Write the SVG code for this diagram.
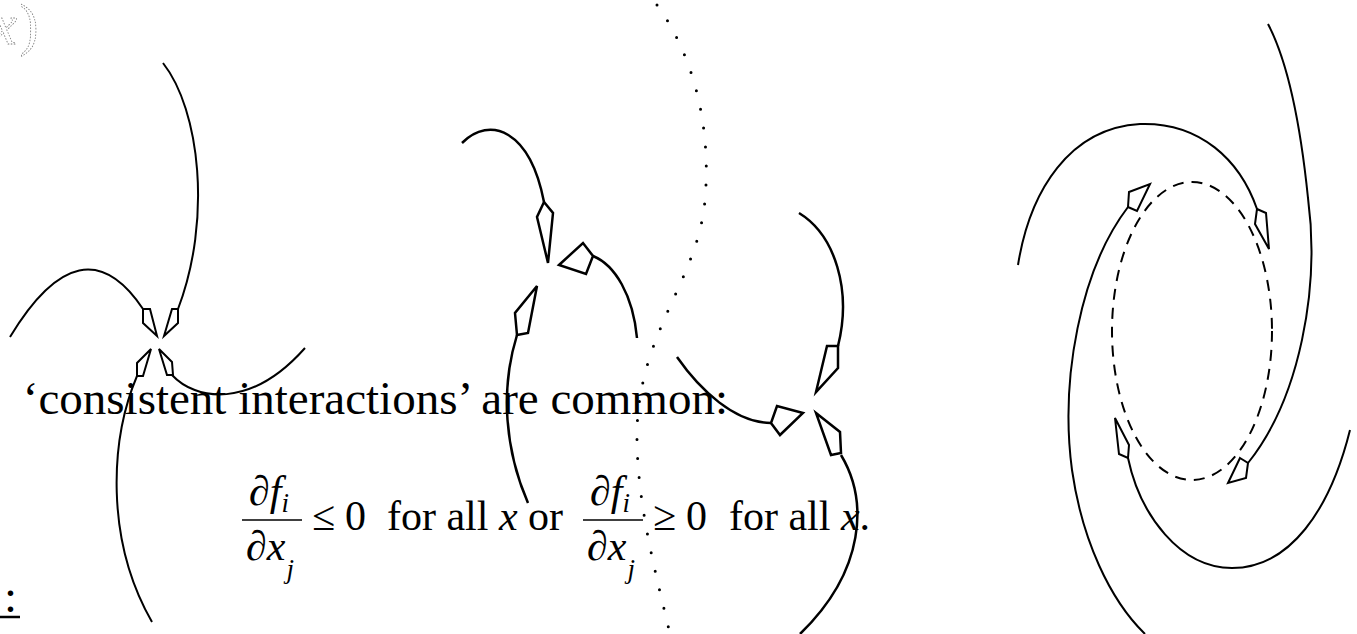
<svg xmlns="http://www.w3.org/2000/svg" width="1357" height="634" viewBox="0 0 1357 634">
<style>
.c{fill:none;stroke:#000;stroke-width:2}
.t{fill:none;stroke:#000;stroke-width:2.5}
.h{fill:none;stroke:#000;stroke-width:2;stroke-linejoin:miter}
.ht{fill:none;stroke:#000;stroke-width:2.5;stroke-linejoin:miter}
.dot{fill:none;stroke:#000;stroke-width:3;stroke-linecap:round;stroke-dasharray:0 19}
.dash{fill:none;stroke:#000;stroke-width:2;stroke-dasharray:11 8}
.tx{font-family:"Liberation Serif","Times New Roman",serif;fill:#000}
.it{font-style:italic}
</style>
<rect width="1357" height="634" fill="#fff"/>
<g id="corner-label">
<text class="tx it" x="-8" y="44" font-size="56" stroke="#777" stroke-width="0.8" stroke-dasharray="1.5 1.5" style="fill:none">x<tspan font-style="normal" dx="3">)</tspan></text>
</g>
<g id="connectors">
<g id="cluster-left">
<path class="c" d="M10,337 Q82,218 143,309"/>
<polygon class="h" points="143,309 150,309 157,336 143,323"/>
<path class="c" d="M163,63 C200,110 212,220 178,309"/>
<polygon class="h" points="178,309 172,309 164,336 178,323"/>
<path class="c" d="M137,376 C110,440 105,540 152,622"/>
<polygon class="h" points="151,349 137,363 137,376 143,376"/>
<path class="c" d="M172,375 C195,400 250,410 305,348"/>
<polygon class="h" points="159,349 172,362 173,375 167,375"/>
</g>
<g id="cluster-middle">
<path class="t" d="M462,143 C490,115 530,130 544,202"/>
<polygon class="ht" points="544,202 553,213 548,263 537,217"/>
<path class="t" d="M593,256 C615,265 633,295 637,338"/>
<polygon class="ht" points="559,265 583,243 593,256 586,274"/>
<path class="t" d="M517,335 C500,390 505,450 528,503"/>
<polygon class="ht" points="537,286 515,313 517,335 528,333"/>
</g>
<g id="separatrix">
<path class="dot" d="M657,5 C690,50 712,120 705,200 C698,280 640,330 637,430 C636,500 655,570 670,634"/>
</g>
<g id="cluster-right">
<path class="t" d="M799,213 C835,235 852,290 838,346"/>
<polygon class="ht" points="827,346 838,346 838,368 816,392"/>
<path class="t" d="M677,357 C700,390 735,423 771,423"/>
<polygon class="ht" points="803,413 777,406 771,423 780,435"/>
<path class="t" d="M841,455 C868,500 866,570 800,634"/>
<polygon class="ht" points="816,413 840,432 841,453 831,455"/>
</g>
<g id="spiral">
<ellipse class="dash" cx="1192" cy="331" rx="80" ry="149"/>
<path class="c" d="M1018,265 C1030,190 1070,128 1140,124 C1200,122 1240,160 1257,209"/>
<polygon class="h" points="1257,209 1266,213 1269,249 1255,224"/>
<path class="c" d="M1128,207 C1080,270 1060,380 1072,470 C1082,540 1110,600 1145,634"/>
<polygon class="h" points="1129,192 1150,184 1137,211 1128,207"/>
<path class="c" d="M1350,430 C1330,510 1290,568 1232,568 C1180,568 1140,515 1128,458"/>
<polygon class="h" points="1115,418 1129,445 1128,458 1119,454"/>
<path class="c" d="M1248,463 C1300,398 1320,288 1308,198 C1300,120 1288,62 1268,24"/>
<polygon class="h" points="1240,458 1248,463 1246,478 1228,483"/>
</g>
</g>
<g id="statement">
<text class="tx" x="728" y="414" font-size="47" text-anchor="end">‘consistent interactions’ are common:</text>
</g>
<g id="formula">
<text class="tx" x="249" y="505" font-size="42">∂<tspan class="it">f</tspan><tspan class="it" font-size="27" dy="7">i</tspan></text>
<line x1="242" y1="520" x2="302" y2="520" stroke="#000" stroke-width="1.6"/>
<text class="tx" x="246" y="560" font-size="42">∂<tspan class="it">x</tspan><tspan class="it" font-size="27" dx="1" dy="18">j</tspan></text>
<text class="tx" x="312" y="530" font-size="42">≤</text>
<text class="tx" x="345" y="530" font-size="42">0</text>
<text class="tx" x="387" y="530" font-size="42">for all <tspan class="it">x</tspan> or</text>
<text class="tx" x="590" y="505" font-size="42">∂<tspan class="it">f</tspan><tspan class="it" font-size="27" dy="7">i</tspan></text>
<line x1="583" y1="520" x2="643" y2="520" stroke="#000" stroke-width="1.6"/>
<text class="tx" x="587" y="560" font-size="42">∂<tspan class="it">x</tspan><tspan class="it" font-size="27" dx="1" dy="18">j</tspan></text>
<text class="tx" x="653" y="530" font-size="42">≥</text>
<text class="tx" x="686" y="530" font-size="42">0</text>
<text class="tx" x="729" y="530" font-size="42">for all <tspan class="it">x</tspan>.</text>
</g>
<g id="cut-label">
<text class="tx" x="4" y="612" font-size="47">:</text>
<line x1="0" y1="617" x2="20" y2="617" stroke="#000" stroke-width="2.5"/>
</g>
</svg>
